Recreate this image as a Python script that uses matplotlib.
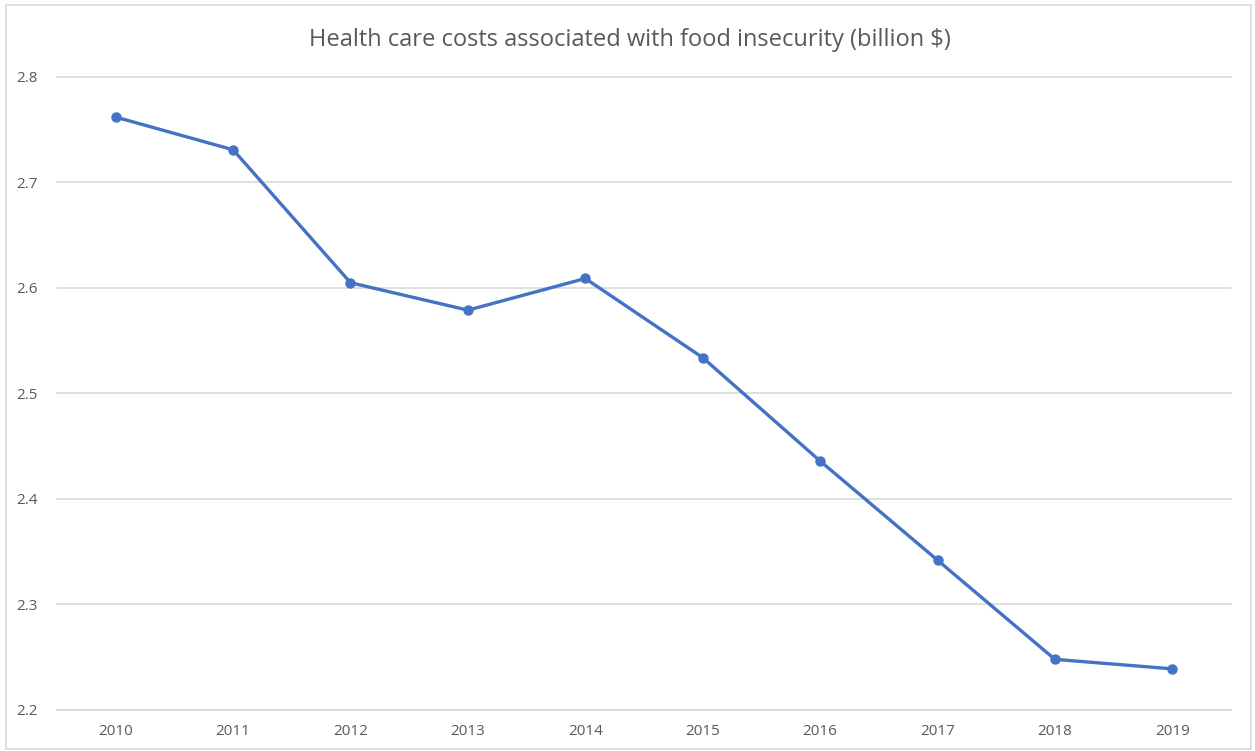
# Line chart of health care costs tied to food insecurity, 2010-2019
import matplotlib.pyplot as plt
from matplotlib.patches import Rectangle

plt.rcParams['font.family'] = ['Open Sans', 'DejaVu Sans']

years = ['2010', '2011', '2012', '2013', '2014', '2015', '2016', '2017', '2018', '2019']
costs = [2.762, 2.731, 2.605, 2.579, 2.609, 2.534, 2.436, 2.342, 2.248, 2.239]

fig = plt.figure(figsize=(12.55, 7.51), dpi=100)
ax = fig.add_axes([0.0454, 0.0546, 0.9355, 0.8429])

# chart frame
fig.patches.append(Rectangle((0.005, 0.003), 0.992, 0.990, transform=fig.transFigure,
                             fill=False, edgecolor='#d9d9d9', linewidth=1.2))

x = list(range(len(years)))
ax.plot(x, costs, color='#4472C4', linewidth=2.4, marker='o', markersize=6.5, zorder=3)

ax.set_xlim(-0.5, len(years) - 0.5)
ax.set_ylim(2.2, 2.8)
ax.set_yticks([2.2, 2.3, 2.4, 2.5, 2.6, 2.7, 2.8])
ax.set_yticklabels(['2.2', '2.3', '2.4', '2.5', '2.6', '2.7', '2.8'])
ax.set_xticks(x)
ax.set_xticklabels(years)

ax.grid(axis='y', color='#d9d9d9', linewidth=1.2)
for gl in ax.get_ygridlines():
    gl.set_clip_on(False)
ax.set_axisbelow(True)
for side in ['top', 'right', 'left']:
    ax.spines[side].set_visible(False)
ax.spines['bottom'].set_color('#d9d9d9')
ax.spines['bottom'].set_linewidth(1.2)
ax.tick_params(length=0, labelsize=11, labelcolor='#595959')
ax.tick_params(axis='y', pad=14)
ax.tick_params(axis='x', pad=10)

fig.text(0.502, 0.947, 'Health care costs associated with food insecurity (billion $)',
         ha='center', va='center', fontsize=17, color='#595959')

plt.savefig('out.png', dpi=100)
